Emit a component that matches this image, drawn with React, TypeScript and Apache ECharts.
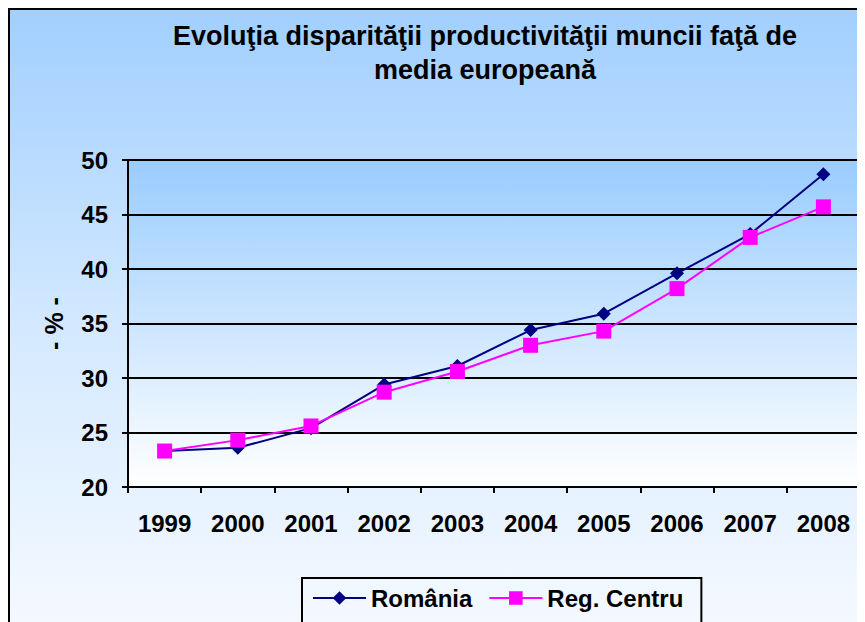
import React, { useEffect, useRef } from "react";
import * as echarts from "echarts";

const years = ["1999", "2000", "2001", "2002", "2003", "2004", "2005", "2006", "2007", "2008"];
const romania = [23.3, 23.6, 25.4, 29.4, 31.1, 34.4, 35.9, 39.6, 43.2, 48.7];
const regCentru = [23.3, 24.3, 25.6, 28.7, 30.6, 33.0, 34.3, 38.2, 42.9, 45.7];
const titleText = "Evoluţia disparităţii productivităţii muncii faţă de\nmedia europeană";
const yName = "- % -";

const FONT = "'Liberation Sans', Arial, sans-serif";

export default function App() {
  const ref = useRef<HTMLDivElement>(null);
  useEffect(() => {
    if (!ref.current) return;
    const chart = echarts.init(ref.current, undefined, { renderer: "svg" });
    chart.setOption({
      animation: false,
      textStyle: { fontFamily: FONT },
      title: {
        text: titleText,
        left: 477,
        textAlign: "center",
        top: 11,
        padding: 0,
        textStyle: { fontFamily: FONT, fontWeight: "bold", fontSize: 27, color: "#000", lineHeight: 34 },
      },
      graphic: [
        { type: "line", shape: { x1: 1, y1: 0, x2: 1, y2: 614 }, style: { stroke: "#000", lineWidth: 2 } },
        { type: "line", shape: { x1: 0, y1: 1, x2: 857, y2: 1 }, style: { stroke: "#000", lineWidth: 2 } },
      ],
      legend: {
        left: 294,
        top: 570,
        itemWidth: 53,
        itemHeight: 17,
        itemGap: 16,
        padding: [8, 18, 20, 10],
        borderColor: "#000",
        borderWidth: 2,
        textStyle: { fontFamily: FONT, fontWeight: "bold", fontSize: 24, color: "#000" },
        data: ["România", "Reg. Centru"],
      },
      grid: {
        left: 120,
        top: 152,
        width: 732,
        height: 327,
        show: true,
        borderWidth: 0,
        backgroundColor: new echarts.graphic.LinearGradient(0, 0, 0, 1, [
          { offset: 0, color: "#99ccff" },
          { offset: 1, color: "#ffffff" },
        ]),
      },
      xAxis: {
        type: "category",
        data: years,
        boundaryGap: true,
        axisLine: { lineStyle: { color: "#000", width: 2 } },
        axisTick: { show: true, length: 6, inside: false, lineStyle: { color: "#000", width: 2 } },
        axisLabel: { color: "#000", fontFamily: FONT, fontWeight: "bold", fontSize: 24, margin: 24 },
      },
      yAxis: {
        type: "value",
        min: 20,
        max: 50,
        interval: 5,
        name: yName,
        nameLocation: "middle",
        nameRotate: 90,
        nameGap: 62,
        nameTextStyle: { color: "#000", fontFamily: FONT, fontWeight: "bold", fontSize: 25 },
        axisLine: { show: true, lineStyle: { color: "#000", width: 2 } },
        axisTick: { show: true, length: 6, lineStyle: { color: "#000", width: 2 } },
        axisLabel: { color: "#000", fontFamily: FONT, fontWeight: "bold", fontSize: 24, margin: 20 },
        splitLine: { show: true, lineStyle: { color: "#000", width: 2 } },
      },
      series: [
        {
          name: "România",
          type: "line",
          data: romania,
          symbol: "diamond",
          symbolSize: 14,
          lineStyle: { color: "#000080", width: 2 },
          itemStyle: { color: "#000080" },
        },
        {
          name: "Reg. Centru",
          type: "line",
          data: regCentru,
          symbol: "rect",
          symbolSize: 15,
          lineStyle: { color: "#ff00ff", width: 2 },
          itemStyle: { color: "#ff00ff" },
        },
      ],
    });
    return () => chart.dispose();
  }, []);
  return (
    <div
      ref={ref}
      style={{
        width: 857,
        height: 614,
        background: "linear-gradient(to bottom, #a1cfff 0%, #d6eaff 55%, #f4f9ff 100%)",
      }}
    />
  );
}
